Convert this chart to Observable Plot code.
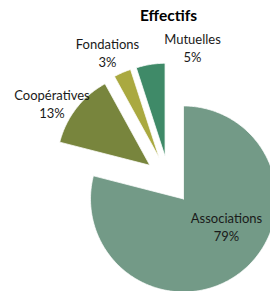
<!DOCTYPE html>
<html>
<head>
<meta charset="utf-8">
<script src="https://cdn.jsdelivr.net/npm/d3@7"></script>
<script src="https://cdn.jsdelivr.net/npm/@observablehq/plot@0.6"></script>
<style>
  html, body { margin: 0; padding: 0; background: #fff; }
  #chart svg { display: block; }
</style>
</head>
<body>
<div id="chart"></div>
<script>
// Data
const names = ["Associations", "Coopératives", "Fondations", "Mutuelles"];
const values = [79, 13, 3, 5];
const pctLabels = ["79%", "13%", "3%", "5%"];
const colors = ["#739A87", "#78853D", "#AAA940", "#3F8A68"];
const title = "Effectifs";

// Layout (pixels)
const W = 270, H = 291;
const cx = 168.3, cy = 179.5, R = 93, explode = 24;
const labelPos = {
  "Associations": [226, 222],
  "Coopératives": [51.5, 99],
  "Fondations": [107, 48],
  "Mutuelles": [192, 43]
};
const lineGap = 18;

const arcs = d3.pie().sort(null).startAngle(0).endAngle(2 * Math.PI)(values);
const polys = [];
arcs.forEach((a, i) => {
  const mid = (a.startAngle + a.endAngle) / 2;
  const ox = cx + explode * Math.sin(mid);
  const oy = cy - explode * Math.cos(mid);
  polys.push({name: names[i], x: ox, y: oy});
  const n = Math.max(8, Math.ceil((a.endAngle - a.startAngle) * 60));
  for (let k = 0; k <= n; k++) {
    const t = a.startAngle + (a.endAngle - a.startAngle) * k / n;
    polys.push({name: names[i], x: ox + R * Math.sin(t), y: oy - R * Math.cos(t)});
  }
  polys.push({name: names[i], x: ox, y: oy});
});

const labelRows = names.map((n, i) => ({
  name: n, pct: pctLabels[i], x: labelPos[n][0], y: labelPos[n][1]
}));

const font = "Lato, 'Open Sans', sans-serif";

const chart = Plot.plot({
  width: W,
  height: H,
  margin: 0,
  x: {domain: [0, W], range: [0, W], axis: null},
  y: {domain: [0, H], range: [0, H], axis: null},
  color: {domain: names, range: colors},
  style: {fontFamily: font, background: "#fff"},
  marks: [
    Plot.line(polys, {x: "x", y: "y", z: "name", fill: "name", stroke: "white", strokeWidth: 0.75, curve: "linear"}),
    Plot.text(labelRows, {x: "x", y: "y", text: "name", lineAnchor: "bottom", textAnchor: "middle", fontSize: 13, fill: "#1a1a1a", fontFamily: font}),
    Plot.text(labelRows, {x: "x", y: d => d.y + lineGap, text: "pct", lineAnchor: "bottom", textAnchor: "middle", fontSize: 13, fill: "#1a1a1a", fontFamily: font}),
    Plot.text([title], {x: () => 168, y: () => 20, text: d => d, lineAnchor: "bottom", textAnchor: "middle", fontSize: 15.5, fontWeight: "bold", fill: "#000", fontFamily: font})
  ]
});
document.getElementById("chart").appendChild(chart);
</script>
</body>
</html>
